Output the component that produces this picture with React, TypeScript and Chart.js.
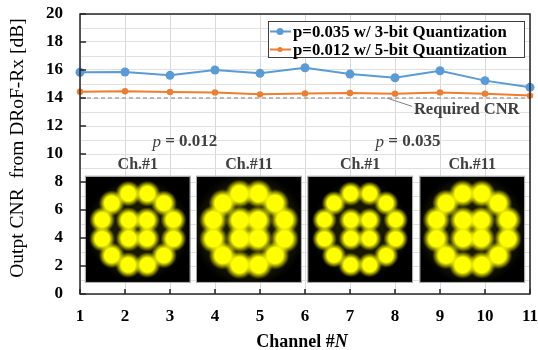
import { useEffect, useRef } from "react";
import { Chart, registerables } from "chart.js";

Chart.register(...registerables);

const FONT = "'Liberation Serif'";

const channels = [1, 2, 3, 4, 5, 6, 7, 8, 9, 10, 11];
const cnrP035Bit3 = [15.84, 15.86, 15.62, 16.0, 15.76, 16.16, 15.71, 15.45, 15.95, 15.24, 14.76];
const cnrP012Bit5 = [14.45, 14.48, 14.43, 14.4, 14.26, 14.33, 14.36, 14.31, 14.4, 14.31, 14.17];
const seriesLabels = ["p=0.035 w/ 3-bit Quantization", "p=0.012 w/ 5-bit Quantization"];
const seriesColors = ["#5B9BD5", "#ED7D31"];
const yTickLabels = [0, 2, 4, 6, 8, 10, 12, 14, 16, 18, 20];
const yTitle = "Outpt CNR  from DRoF-Rx [dB]";
const xTitleParts = ["Channel #", "N"];

const requiredCnr = 14;
const requiredLabel = "Required CNR";
const requiredLeader = [7.82, 14, 8.38, 13.4];
const requiredLabelPos = [8.42, 13.15];

const groupValues = ["0.012", "0.035"];
const groupX = [3.33, 8.29];
const groupY = 10.85;

const insetLabels = ["Ch.#1", "Ch.#11", "Ch.#1", "Ch.#11"];
const insetLeft = [1.13, 3.6, 6.07, 8.56];
const insetRight = [3.44, 5.91, 8.38, 10.87];
const insetTop = 8.38;
const insetBottom = 0.86;
const insetLabelY = 9.2;
const insetSpread = [1.0, 1.1, 0.95, 1.07];
const apskInnerAngles = [45, 135, 225, 315];
const apskOuterAngles = [15, 45, 75, 105, 135, 165, 195, 225, 255, 285, 315, 345];
const apskInnerR = 0.125;
const apskOuterR = 0.355;

function blob(ctx: CanvasRenderingContext2D, x: number, y: number, r: number) {
  const g = ctx.createRadialGradient(x, y, 0, x, y, r);
  g.addColorStop(0, "rgba(255,255,0,1)");
  g.addColorStop(0.55, "rgba(255,255,0,1)");
  g.addColorStop(0.72, "rgba(255,255,0,0.6)");
  g.addColorStop(0.88, "rgba(255,255,0,0.22)");
  g.addColorStop(1, "rgba(255,255,0,0)");
  ctx.fillStyle = g;
  ctx.beginPath();
  ctx.arc(x, y, r, 0, Math.PI * 2);
  ctx.fill();
}

const overlay = {
  id: "overlay",
  beforeDatasetsDraw(chart: any) {
    const { ctx, chartArea: ca, scales } = chart;
    const xs = scales.x;
    const ys = scales.y;
    ctx.save();
    for (let i = 0; i < insetLabels.length; i++) {
      const l = xs.getPixelForValue(insetLeft[i]);
      const r = xs.getPixelForValue(insetRight[i]);
      const t = ys.getPixelForValue(insetTop);
      const b = ys.getPixelForValue(insetBottom);
      ctx.fillStyle = "#000";
      ctx.fillRect(l, t, r - l, b - t);
      ctx.strokeStyle = "#a6a6a6";
      ctx.lineWidth = 1;
      ctx.strokeRect(l - 0.5, t - 0.5, r - l + 1, b - t + 1);
      ctx.save();
      ctx.beginPath();
      ctx.rect(l, t, r - l, b - t);
      ctx.clip();
      const w = r - l;
      const cx = (l + r) / 2;
      const cy = (t + b) / 2;
      const s = insetSpread[i];
      const hz = ctx.createRadialGradient(cx, cy, 0, cx, cy, w * 0.5 * s);
      hz.addColorStop(0, "rgba(110,110,0,0.25)");
      hz.addColorStop(0.8, "rgba(110,110,0,0.2)");
      hz.addColorStop(1, "rgba(110,110,0,0)");
      ctx.fillStyle = hz;
      ctx.fillRect(l, t, w, b - t);
      const br = 13 * s;
      for (const a of apskOuterAngles) {
        const rad = (a * Math.PI) / 180;
        blob(ctx, cx + Math.cos(rad) * apskOuterR * w, cy - Math.sin(rad) * apskOuterR * w, br);
      }
      for (const a of apskInnerAngles) {
        const rad = (a * Math.PI) / 180;
        blob(ctx, cx + Math.cos(rad) * apskInnerR * w, cy - Math.sin(rad) * apskInnerR * w, br);
      }
      ctx.restore();
      ctx.fillStyle = "#404040";
      ctx.font = `bold 16px ${FONT}`;
      ctx.textAlign = "center";
      ctx.textBaseline = "middle";
      ctx.fillText(insetLabels[i], cx, ys.getPixelForValue(insetLabelY));
    }
    for (let i = 0; i < groupValues.length; i++) {
      const px = xs.getPixelForValue(groupX[i]);
      const py = ys.getPixelForValue(groupY);
      ctx.textBaseline = "middle";
      ctx.textAlign = "left";
      ctx.font = `italic 17px ${FONT}`;
      const w1 = ctx.measureText("p").width;
      ctx.font = `bold 17px ${FONT}`;
      const rest = " = " + groupValues[i];
      const w2 = ctx.measureText(rest).width;
      const x0 = px - (w1 + w2) / 2;
      ctx.fillStyle = "#404040";
      ctx.font = `italic 17px ${FONT}`;
      ctx.fillText("p", x0, py);
      ctx.font = `bold 17px ${FONT}`;
      ctx.fillText(rest, x0 + w1, py);
    }
    const ry = ys.getPixelForValue(requiredCnr);
    ctx.strokeStyle = "#a6a6a6";
    ctx.lineWidth = 1.5;
    ctx.setLineDash([4, 3]);
    ctx.beginPath();
    ctx.moveTo(ca.left, ry);
    ctx.lineTo(ca.right, ry);
    ctx.stroke();
    ctx.setLineDash([]);
    ctx.strokeStyle = "#808080";
    ctx.lineWidth = 1;
    ctx.beginPath();
    ctx.moveTo(xs.getPixelForValue(requiredLeader[0]), ys.getPixelForValue(requiredLeader[1]));
    ctx.lineTo(xs.getPixelForValue(requiredLeader[2]), ys.getPixelForValue(requiredLeader[3]));
    ctx.stroke();
    ctx.fillStyle = "#404040";
    ctx.font = `bold 16.5px ${FONT}`;
    ctx.textAlign = "left";
    ctx.textBaseline = "middle";
    ctx.fillText(requiredLabel, xs.getPixelForValue(requiredLabelPos[0]), ys.getPixelForValue(requiredLabelPos[1]));
    ctx.restore();
  },
  afterDatasetsDraw(chart: any) {
    const { ctx, chartArea: ca, scales } = chart;
    const xs = scales.x;
    const ys = scales.y;
    ctx.save();
    ctx.strokeStyle = "#262626";
    ctx.lineWidth = 1.5;
    ctx.strokeRect(ca.left, ca.top, ca.right - ca.left, ca.bottom - ca.top);
    ctx.beginPath();
    for (const v of channels) {
      const px = xs.getPixelForValue(v);
      ctx.moveTo(px, ca.bottom);
      ctx.lineTo(px, ca.bottom - 5);
    }
    for (const v of yTickLabels) {
      const py = ys.getPixelForValue(v);
      ctx.moveTo(ca.left, py);
      ctx.lineTo(ca.left + 6, py);
    }
    ctx.stroke();
    // legend
    const lx = 268, ly = 21, lw = 256, lh = 36;
    ctx.fillStyle = "#fff";
    ctx.fillRect(lx, ly, lw, lh);
    ctx.strokeStyle = "#404040";
    ctx.lineWidth = 1;
    ctx.strokeRect(lx + 0.5, ly + 0.5, lw, lh);
    const rows = [31.5, 49.5];
    chart.data.datasets.forEach((ds: any, i: number) => {
      const y = rows[i];
      ctx.strokeStyle = seriesColors[i];
      ctx.lineWidth = 2;
      ctx.beginPath();
      ctx.moveTo(lx + 2, y);
      ctx.lineTo(lx + 23, y);
      ctx.stroke();
      ctx.fillStyle = seriesColors[i];
      ctx.beginPath();
      ctx.arc(lx + 12, y, i === 0 ? 3.5 : 2.5, 0, Math.PI * 2);
      ctx.fill();
      ctx.fillStyle = "#000";
      ctx.font = `bold 16.8px ${FONT}`;
      ctx.textAlign = "left";
      ctx.textBaseline = "middle";
      ctx.fillText(ds.label, lx + 25, y + 1);
    });
    // x title
    ctx.font = `bold 18px ${FONT}`;
    const w1 = ctx.measureText(xTitleParts[0]).width;
    ctx.font = `italic bold 18px ${FONT}`;
    const w2 = ctx.measureText(xTitleParts[1]).width;
    const x0 = 302 - (w1 + w2) / 2;
    ctx.fillStyle = "#000";
    ctx.textBaseline = "middle";
    ctx.textAlign = "left";
    ctx.font = `bold 18px ${FONT}`;
    ctx.fillText(xTitleParts[0], x0, 342);
    ctx.font = `italic bold 18px ${FONT}`;
    ctx.fillText(xTitleParts[1], x0 + w1, 342);
    // y title
    ctx.save();
    ctx.translate(18, 148);
    ctx.rotate(-Math.PI / 2);
    ctx.font = `19.5px ${FONT}`;
    ctx.textAlign = "center";
    ctx.textBaseline = "middle";
    ctx.fillText(yTitle, 0, 0);
    ctx.restore();
    ctx.restore();
  },
};

function zeroPad(s: any) {
  s.paddingTop = 0;
  s.paddingBottom = 0;
  s.paddingLeft = 0;
  s.paddingRight = 0;
}

export default function App() {
  const ref = useRef<HTMLCanvasElement>(null);
  useEffect(() => {
    if (!ref.current) return;
    const chart = new Chart(ref.current, {
      type: "line",
      data: {
        datasets: [
          {
            label: seriesLabels[0],
            data: channels.map((c, i) => ({ x: c, y: cnrP035Bit3[i] })),
            borderColor: seriesColors[0],
            backgroundColor: seriesColors[0],
            borderWidth: 2,
            pointRadius: 4.5,
            pointBorderWidth: 0,
            clip: false,
          },
          {
            label: seriesLabels[1],
            data: channels.map((c, i) => ({ x: c, y: cnrP012Bit5[i] })),
            borderColor: seriesColors[1],
            backgroundColor: seriesColors[1],
            borderWidth: 2,
            pointRadius: 3.2,
            pointBorderWidth: 0,
            clip: false,
          },
        ],
      },
      options: {
        animation: false,
        responsive: false,
        maintainAspectRatio: false,
        layout: { autoPadding: false, padding: { left: 0, right: 8, top: 14, bottom: 0 } },
        plugins: { legend: { display: false }, tooltip: { enabled: false } },
        scales: {
          x: {
            type: "linear",
            min: 1,
            max: 11,
            afterFit: (s: any) => {
              s.height = 56;
              zeroPad(s);
            },
            afterBuildTicks: (s: any) => {
              s.ticks = channels.map((v) => ({ value: v }));
            },
            grid: { color: "#d9d9d9", drawTicks: false },
            border: { display: false },
            ticks: {
              font: { family: FONT, size: 17, weight: "bold" },
              color: "#000",
              padding: 12,
              maxRotation: 0,
              autoSkip: false,
            },
          },
          y: {
            min: 0,
            max: 20,
            afterFit: (s: any) => {
              s.width = 80;
              zeroPad(s);
            },
            grid: { color: "#e0e0e0", drawTicks: false },
            border: { display: false },
            ticks: {
              stepSize: 1,
              autoSkip: false,
              callback: (v: any) => (yTickLabels.includes(Number(v)) ? String(v) : ""),
              font: { family: FONT, size: 17, weight: "bold" },
              color: "#000",
              padding: 17,
            },
          },
        },
      },
      plugins: [overlay],
    } as any);
    return () => chart.destroy();
  }, []);
  return (
    <div style={{ position: "absolute", left: 0, top: 0, width: 538, height: 350, background: "#fff" }}>
      <canvas ref={ref} width={538} height={350} style={{ width: 538, height: 350 }} />
    </div>
  );
}
